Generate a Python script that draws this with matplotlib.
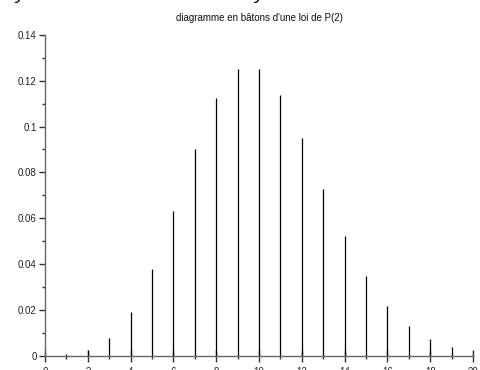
import matplotlib
matplotlib.use("Agg")
import matplotlib.pyplot as plt
from matplotlib.ticker import MultipleLocator, FixedLocator

# Data
k = list(range(0, 21))
prob = [0.00005, 0.0005, 0.0023, 0.0076, 0.0189, 0.0378, 0.0631, 0.0901,
        0.1126, 0.1251, 0.1251, 0.1137, 0.0948, 0.0729, 0.0521, 0.0347,
        0.0217, 0.0128, 0.0071, 0.0037, 0.0019]
title = "diagramme en bâtons d'une loi de P(2)"
xticks = [0, 2, 4, 6, 8, 10, 12, 14, 16, 18, 20]
yticks = [0, 0.02, 0.04, 0.06, 0.08, 0.1, 0.12, 0.14]
yticklabels = ["0", "0.02", "0.04", "0.06", "0.08", "0.1", "0.12", "0.14"]

plt.rcParams['font.family'] = ['Liberation Sans', 'DejaVu Sans']

fig = plt.figure(figsize=(4.8, 3.7), dpi=100)
ax = fig.add_axes([45/480, (370-355.5)/370, (473-45)/480, (355.5-35)/370])

ax.vlines(k, 0, prob, colors='black', linewidth=0.9)

ax.set_xlim(0, 20)
ax.set_ylim(0, 0.14)
for s in ['top', 'right']:
    ax.spines[s].set_visible(False)
for s in ['left', 'bottom']:
    ax.spines[s].set_color('#666666')
    ax.spines[s].set_linewidth(1.0)

ax.xaxis.set_major_locator(FixedLocator(xticks))
ax.xaxis.set_minor_locator(MultipleLocator(1))
ax.set_yticks(yticks)
ax.set_yticklabels(yticklabels)
ax.yaxis.set_minor_locator(MultipleLocator(0.01))

ax.tick_params(axis='x', which='major', direction='inout', length=8, width=1,
               color='#333333', labelsize=7, pad=4.5, labelcolor='#222222')
ax.tick_params(axis='x', which='minor', direction='out', length=2, width=1,
               color='#333333')
ax.tick_params(axis='y', which='major', direction='out', length=4, width=1,
               color='#333333', labelsize=7, pad=2, labelcolor='#222222')
ax.tick_params(axis='y', which='minor', direction='out', length=2, width=1,
               color='#333333')

ax.set_title(title, fontsize=7, pad=10, color='#111111')

# clipped large text fragments at very top (only descenders visible)
fig.text(20/480, 1 + 1/370, "y", fontsize=14, style='italic', va='baseline', ha='center', color='black')
fig.text(259/480, 1 + 1/370, "y", fontsize=14, style='italic', va='baseline', ha='center', color='black')

fig.savefig("out.png", dpi=100)
